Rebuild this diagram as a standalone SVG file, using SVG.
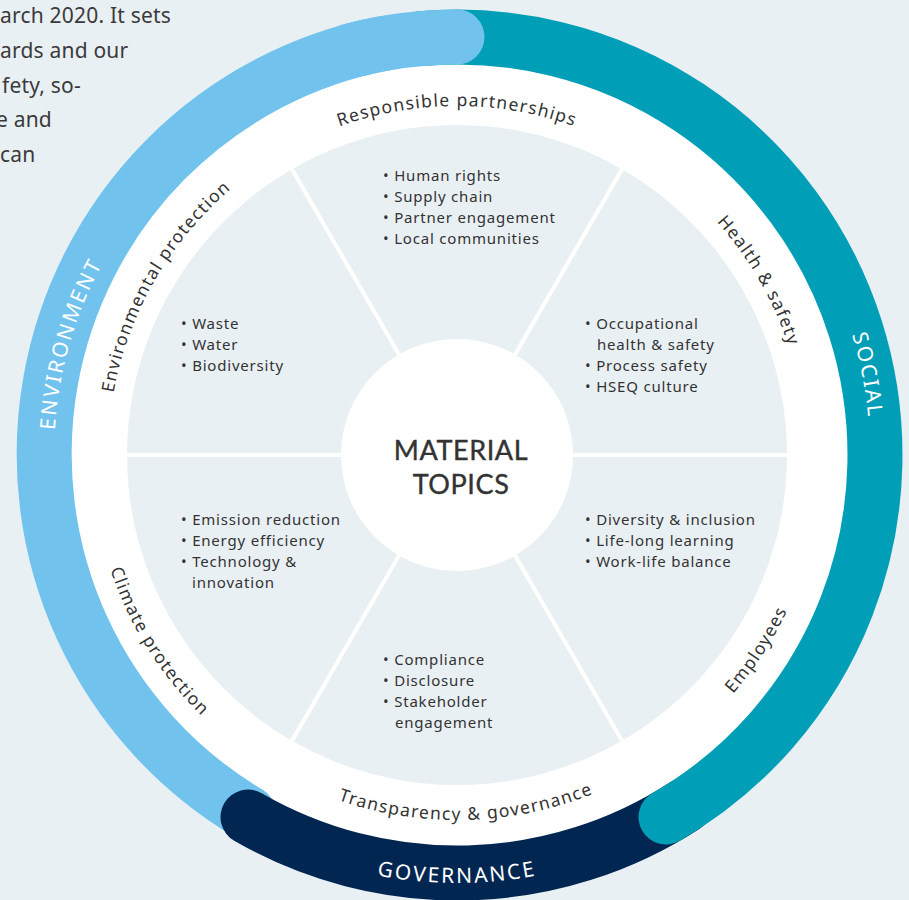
<svg xmlns="http://www.w3.org/2000/svg" width="909" height="900" viewBox="0 0 909 900">
<style>
.para{font-family:"Noto Sans","Liberation Sans",sans-serif;font-size:21px;fill:#3a3a3a;letter-spacing:0.2px}
.item{font-family:"Noto Sans","Liberation Sans",sans-serif;font-size:15px;fill:#333;letter-spacing:0.8px}
.lbl{font-family:"Noto Sans","Liberation Sans",sans-serif;font-size:17.5px;fill:#333;letter-spacing:1.3px}
.ring{font-family:"Noto Sans","Liberation Sans",sans-serif;font-size:21px;fill:#fff;letter-spacing:2.2px}
.title{font-family:"Lato","Noto Sans",sans-serif;font-size:27px;fill:#333;letter-spacing:0.6px;stroke:#333;stroke-width:0.4px}
.arc{fill:none;stroke-width:55;stroke-linecap:round}
</style>
<defs>
<path id="pResp" d="M154.76,280.5 A349,349 0 0 1 759.24,280.5"/>
<path id="pHealth" d="M457,106 A349,349 0 0 1 759.24,629.5"/>
<path id="pEnvP" d="M154.76,629.5 A349,349 0 0 1 457,106"/>
<path id="pTrans" d="M145.8,645.7 A365,365 0 0 0 777.8,629.2"/>
<path id="pClim" d="M134.7,283.6 A365,365 0 0 0 469.7,819.8"/>
<path id="pEmp" d="M437.9,819.5 A365,365 0 0 0 782.2,289.3"/>
<path id="pENV" d="M167.1,734.95 A403,403 0 0 1 359.51,63.97"/>
<path id="pSOC" d="M591.46,64.5 A413,413 0 0 1 727.95,766.7"/>
<path id="pGOV" d="M86.34,669 A428,428 0 0 0 827.66,669"/>
</defs>
<rect width="909" height="900" fill="#E9F0F4"/>
<g id="intro-text">
<text class="para" x="0" y="23">arch 2020. It sets</text>
<text class="para" x="0" y="58">ards and our</text>
<text class="para" x="2" y="93">fety, so-</text>
<text class="para" x="-4" y="127">e and</text>
<text class="para" x="0" y="162">can</text>
</g>
<circle cx="457" cy="455" r="395" fill="#fff"/>
<circle cx="457" cy="455" r="330" fill="#E9F0F4"/>
<g id="ring">
<path class="arc" stroke="#71C3EE" d="M248.3,813.2 A418,418 0 0 1 384.4,43.35"/>
<path class="arc" stroke="#012652" d="M684.7,805.6 A418,418 0 0 1 248,817"/>
<path class="arc" stroke="#009FB7" d="M420.6,38.6 A418,418 0 0 1 666,817"/>
<path class="arc" stroke="#71C3EE" d="M348.8,51.24 A418,418 0 0 1 457,37"/>
</g>
<g id="connectors" stroke="#fff" stroke-width="4">
<line x1="125" y1="455" x2="789" y2="455"/>
<line x1="292" y1="169.2" x2="622" y2="740.8"/>
<line x1="622" y1="169.2" x2="292" y2="740.8"/>
</g>
<g id="center">
<circle cx="457" cy="455" r="116" fill="#fff"/>
<text class="title" x="461" y="460" text-anchor="middle">MATERIAL</text>
<text class="title" x="461" y="494" text-anchor="middle">TOPICS</text>
</g>
<g id="pillar-environment"><text class="ring"><textPath href="#pENV" startOffset="50%" text-anchor="middle">ENVIRONMENT</textPath></text></g>
<g id="pillar-social"><text class="ring"><textPath href="#pSOC" startOffset="50%" text-anchor="middle">SOCIAL</textPath></text></g>
<g id="pillar-governance"><text class="ring"><textPath href="#pGOV" startOffset="50%" text-anchor="middle">GOVERNANCE</textPath></text></g>
<g id="responsible-partnerships">
<text class="lbl"><textPath href="#pResp" startOffset="50%" text-anchor="middle">Responsible partnerships</textPath></text>
<text class="item" x="383" y="181">• Human rights</text>
<text class="item" x="383" y="202">• Supply chain</text>
<text class="item" x="383" y="223">• Partner engagement</text>
<text class="item" x="383" y="244">• Local communities</text>
</g>
<g id="health-safety">
<text class="lbl"><textPath href="#pHealth" startOffset="50%" text-anchor="middle">Health &amp; safety</textPath></text>
<text class="item" x="585" y="329">• Occupational</text>
<text class="item" x="597" y="350">health &amp; safety</text>
<text class="item" x="585" y="371">• Process safety</text>
<text class="item" x="585" y="392">• HSEQ culture</text>
</g>
<g id="environmental-protection">
<text class="lbl"><textPath href="#pEnvP" startOffset="50%" text-anchor="middle">Environmental protection</textPath></text>
<text class="item" x="181" y="329">• Waste</text>
<text class="item" x="181" y="350">• Water</text>
<text class="item" x="181" y="371">• Biodiversity</text>
</g>
<g id="climate-protection">
<text class="lbl"><textPath href="#pClim" startOffset="50%" text-anchor="middle">Climate protection</textPath></text>
<text class="item" x="181" y="525">• Emission reduction</text>
<text class="item" x="181" y="546">• Energy efficiency</text>
<text class="item" x="181" y="567">• Technology &amp;</text>
<text class="item" x="192" y="588">innovation</text>
</g>
<g id="employees">
<text class="lbl"><textPath href="#pEmp" startOffset="50%" text-anchor="middle">Employees</textPath></text>
<text class="item" x="585" y="525">• Diversity &amp; inclusion</text>
<text class="item" x="585" y="546">• Life-long learning</text>
<text class="item" x="585" y="567">• Work-life balance</text>
</g>
<g id="transparency-governance">
<text class="lbl"><textPath href="#pTrans" startOffset="50%" text-anchor="middle">Transparency &amp; governance</textPath></text>
<text class="item" x="383" y="665">• Compliance</text>
<text class="item" x="383" y="686">• Disclosure</text>
<text class="item" x="383" y="707">• Stakeholder</text>
<text class="item" x="395" y="728">engagement</text>
</g>
</svg>
